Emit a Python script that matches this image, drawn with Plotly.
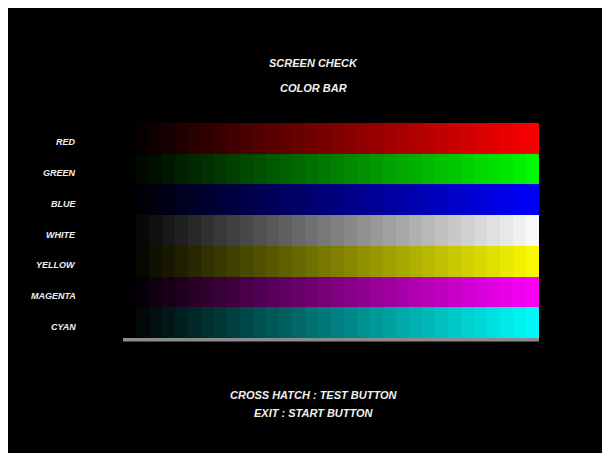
import plotly.graph_objects as go

# Color bar test screen data
row_names = ["RED", "GREEN", "BLUE", "WHITE", "YELLOW", "MAGENTA", "CYAN"]
row_channels = [(1, 0, 0), (0, 1, 0), (0, 0, 1), (1, 1, 1), (1, 1, 0), (1, 0, 1), (0, 1, 1)]
levels = [0, 8, 16, 24, 32, 40, 48, 56, 64, 72, 80, 88, 96, 104, 112, 120,
          128, 136, 144, 152, 160, 168, 176, 184, 192, 200, 208, 216, 224, 232, 240, 248]
step_width = [1] * len(row_names)

title_lines = ["SCREEN CHECK", "COLOR BAR"]
footer_lines = ["CROSS HATCH : TEST BUTTON", "EXIT : START BUTTON"]

FONT = "Liberation Sans, Arial, sans-serif"

fig = go.Figure()

# one stacked segment per intensity step
for lv in levels:
    colors = [f"rgb({r * lv},{g * lv},{b * lv})" for r, g, b in row_channels]
    fig.add_trace(go.Bar(
        y=row_names,
        x=step_width,
        orientation="h",
        marker=dict(color=colors, line=dict(width=0)),
        showlegend=False,
        hoverinfo="skip",
    ))

# grey base line under the bars
fig.add_shape(type="rect", xref="x", yref="paper",
              x0=0, x1=len(levels), y0=-0.016, y1=0,
              fillcolor="rgb(140,140,140)", line=dict(width=0), layer="above")

# row labels
for name in row_names:
    fig.add_annotation(text=f"<b><i>{name}</i></b>", xref="paper", yref="y",
                       x=-0.108, y=name, xanchor="right", yanchor="middle",
                       yshift=-4, showarrow=False,
                       font=dict(family=FONT, size=9, color="#f0f0f0"))

# header and footer text
for txt, yy in zip(title_lines, [1.279, 1.163]):
    fig.add_annotation(text=f"<b><i>{txt}</i></b>", xref="paper", yref="paper",
                       x=0.459, y=yy, xanchor="center", yanchor="middle",
                       showarrow=False,
                       font=dict(family=FONT, size=11, color="#f0f0f0"))
for txt, yy in zip(footer_lines, [-0.265, -0.349]):
    fig.add_annotation(text=f"<b><i>{txt}</i></b>", xref="paper", yref="paper",
                       x=0.459, y=yy, xanchor="center", yanchor="middle",
                       showarrow=False,
                       font=dict(family=FONT, size=11, color="#f0f0f0"))

fig.update_layout(
    width=610, height=453,
    margin=dict(l=115, r=79, t=115, b=123),
    paper_bgcolor="black",
    plot_bgcolor="black",
    barmode="stack",
    bargap=0,
    xaxis=dict(range=[0, len(levels)], visible=False, fixedrange=True),
    yaxis=dict(autorange="reversed", visible=False, fixedrange=True),
)

fig.write_html("out.html")
